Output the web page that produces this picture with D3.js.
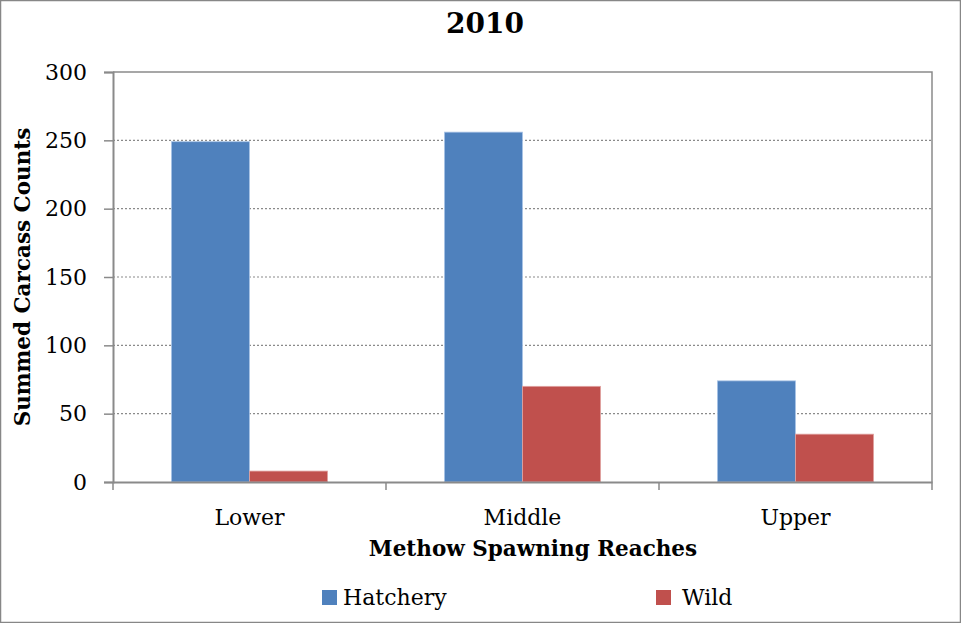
<!DOCTYPE html>
<html><head><meta charset="utf-8">
<script src="https://cdn.jsdelivr.net/npm/d3@7"></script>
<style>body{margin:0;background:#fff}svg{display:block}</style>
</head><body>
<script>
const categories = ["Lower", "Middle", "Upper"];
const seriesNames = ["Hatchery", "Wild"];
const hatchery = [249, 256, 74];
const wild = [8, 70, 35];
const yTicks = [0, 50, 100, 150, 200, 250, 300];
const colors = ["#4F81BD", "#C0504D"];

const W = 961, H = 623;
const m = {left: 113, right: 29, top: 72, bottom: 141};
const svg = d3.select("body").append("svg").attr("width", W).attr("height", H);
const font = "'DejaVu Serif', serif";

svg.append("rect").attr("x", 0.5).attr("y", 0.5).attr("width", W - 1).attr("height", H - 1)
  .attr("fill", "#fff").attr("stroke", "#878787").attr("stroke-width", 1.5);

const x0 = d3.scaleBand().domain(categories).range([m.left, W - m.right]).paddingInner(0.428).paddingOuter(0.214);
const outer = d3.scaleBand().domain(categories).range([m.left, W - m.right]);
const x1 = d3.scaleBand().domain(seriesNames).range([0, x0.bandwidth()]);
const y = d3.scaleLinear().domain([0, 300]).range([H - m.bottom, m.top]);

// grid
svg.append("g").selectAll("line").data(yTicks.filter(d => d > 0 && d < 300)).join("line")
  .attr("x1", m.left).attr("x2", W - m.right).attr("y1", d => y(d)).attr("y2", d => y(d))
  .attr("stroke", "#8a8a8a").attr("stroke-width", 1.2).attr("stroke-dasharray", "2,2");
// plot border top/right
svg.append("path").attr("d", `M${m.left},${y(300)}H${W - m.right}V${y(0)}`)
  .attr("fill", "none").attr("stroke", "#8a8a8a").attr("stroke-width", 1.5);

const data = categories.map((c, i) => ({c, vals: [hatchery[i], wild[i]]}));
const g = svg.append("g").selectAll("g").data(data).join("g")
  .attr("transform", d => `translate(${x0(d.c)},0)`);
g.selectAll("rect").data(d => d.vals.map((v, j) => ({s: seriesNames[j], v, j}))).join("rect")
  .attr("x", d => x1(d.s)).attr("width", x1.bandwidth())
  .attr("y", d => y(d.v)).attr("height", d => y(0) - y(d.v))
  .attr("fill", d => colors[d.j]).attr("stroke", d => d.j === 0 ? "#a9c4e6" : "#e0a3a1").attr("stroke-width", 0.8);

// y axis
const ya = svg.append("g").attr("transform", `translate(${m.left},0)`)
  .call(d3.axisLeft(y).tickValues(yTicks).tickSize(9).tickPadding(17).tickFormat(d3.format("d")));
ya.select(".domain").attr("stroke", "#8a8a8a").attr("stroke-width", 2);
ya.selectAll(".tick line").attr("stroke", "#8a8a8a").attr("stroke-width", 1.5);
ya.selectAll("text").attr("font-family", font).attr("font-size", 22).attr("fill", "#000");

// x axis
const xa = svg.append("g").attr("transform", `translate(0,${y(0)})`)
  .call(d3.axisBottom(x0).tickSize(0).tickPadding(27));
xa.select(".domain").attr("stroke", "#8a8a8a").attr("stroke-width", 2);
xa.selectAll("text").attr("font-family", font).attr("font-size", 22).attr("fill", "#000");
const bounds = [m.left].concat(categories.map(c => outer(c) + outer.bandwidth()));
svg.append("g").selectAll("line").data(bounds).join("line")
  .attr("x1", d => d).attr("x2", d => d).attr("y1", y(0)).attr("y2", y(0) + 8)
  .attr("stroke", "#8a8a8a").attr("stroke-width", 1.5);

// titles
svg.append("text").attr("x", 485).attr("y", 33).attr("text-anchor", "middle")
  .attr("font-family", font).attr("font-weight", "bold").attr("font-size", 28).text("2010");
svg.append("text").attr("transform", `translate(30,${(y(0) + y(300)) / 2}) rotate(-90)`)
  .attr("text-anchor", "middle").attr("font-family", font).attr("font-weight", "bold")
  .attr("font-size", 21.5).text("Summed Carcass Counts");
svg.append("text").attr("x", 533).attr("y", 556).attr("text-anchor", "middle")
  .attr("font-family", font).attr("font-weight", "bold").attr("font-size", 21.5).text("Methow Spawning Reaches");

// legend
const legX = [322, 656];
const lg = svg.append("g").selectAll("g").data(seriesNames).join("g")
  .attr("transform", (d, i) => `translate(${legX[i]},590)`);
lg.append("rect").attr("width", 15).attr("height", 15).attr("fill", (d, i) => colors[i]);
lg.append("text").attr("x", (d, i) => i === 0 ? 21 : 26).attr("y", 15)
  .attr("font-family", font).attr("font-size", 22).text(d => d);
</script>
</body></html>
